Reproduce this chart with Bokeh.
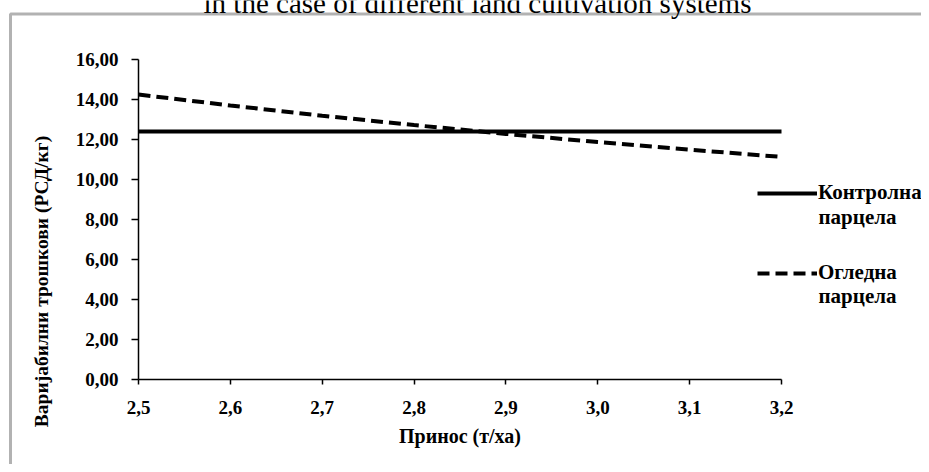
import math
from bokeh.plotting import figure
from bokeh.models import (Legend, LegendItem, Label, BoxAnnotation, FixedTicker,
                          CustomJSTickFormatter, Range1d)
from bokeh.embed import file_html
from bokeh.resources import INLINE

# ---- data ----
yields = [2.5, 2.6, 2.7, 2.8, 2.9, 3.0, 3.1, 3.2]
control_plot = [12.40, 12.40, 12.40, 12.40, 12.40, 12.40, 12.40, 12.40]
demo_plot = [14.25, 13.70, 13.19, 12.72, 12.28, 11.87, 11.49, 11.13]
series_names = ["Контролна", "Огледна"]
series_names_line2 = ["парцела", "парцела"]

x_ticks = [2.5, 2.6, 2.7, 2.8, 2.9, 3.0, 3.1, 3.2]
x_tick_labels = ["2,5", "2,6", "2,7", "2,8", "2,9", "3,0", "3,1", "3,2"]
y_ticks = [0, 2, 4, 6, 8, 10, 12, 14, 16]
y_tick_labels = ["0,00", "2,00", "4,00", "6,00", "8,00", "10,00", "12,00", "14,00", "16,00"]

title_text = "in the case of different land cultivation systems"
x_title = "Принос (т/ха)"
y_title = "Варијабилни трошкови (РСД/кг)"

SERIF = "Liberation Serif"

# ---- layout (pixels of the canvas) ----
W, H = 921, 464
AX_L, AX_R = 138, 781      # pixel columns of x = 2.5 and x = 3.2
AX_B, AX_T = 379, 59       # pixel rows of y = 0 and y = 16
xs = (AX_R - AX_L) / (3.2 - 2.5)
ys = (AX_B - AX_T) / (16 - 0)

def dx(px):
    return 2.5 + (px - AX_L) / xs

def dy(py):
    return (AX_B - py) / ys

p = figure(width=W, height=H, output_backend="svg", toolbar_location=None,
           x_range=Range1d(dx(0), dx(W)), y_range=Range1d(dy(H), dy(0)),
           min_border=0, min_border_left=0, min_border_right=0,
           min_border_top=0, min_border_bottom=0)
p.outline_line_color = None
p.xgrid.visible = False
p.ygrid.visible = False
p.background_fill_color = "white"
p.border_fill_color = "white"

fmt_code = ("const i = tv.findIndex(t => Math.abs(t - tick) < 1e-9);"
            "return i >= 0 ? tl[i] : '';")

xa = p.xaxis[0]
xa.ticker = FixedTicker(ticks=x_ticks)
xa.formatter = CustomJSTickFormatter(args=dict(tv=x_ticks, tl=x_tick_labels), code=fmt_code)
xa.axis_label = x_title
xa.fixed_location = y_ticks[0]
xa.bounds = (x_ticks[0], x_ticks[-1])
ya = p.yaxis[0]
ya.ticker = FixedTicker(ticks=y_ticks)
ya.formatter = CustomJSTickFormatter(args=dict(tv=y_ticks, tl=y_tick_labels), code=fmt_code)
ya.fixed_location = x_ticks[0]
ya.bounds = (y_ticks[0], y_ticks[-1])

for ax in (xa, ya):
    ax.minor_tick_line_color = None
    ax.axis_line_color = "black"
    ax.axis_line_width = 1.5
    ax.major_tick_line_color = "black"
    ax.major_tick_line_width = 1.5
    ax.major_tick_in = 0
    ax.major_label_text_font = SERIF
    ax.major_label_text_font_style = "bold"
    ax.major_label_text_font_size = "19px"
    ax.major_label_text_color = "black"
    ax.axis_label_text_font = SERIF
    ax.axis_label_text_font_style = "bold"
    ax.axis_label_text_font_size = "20px"
    ax.axis_label_text_color = "black"
xa.major_tick_out = 5
xa.major_label_standoff = 16
xa.axis_label_standoff = 8
ya.major_tick_out = 7
ya.major_label_standoff = 13

r1 = p.line(yields, control_plot, line_color="black", line_width=4)
r2 = p.line(yields, demo_plot, line_color="black", line_width=4, line_dash="12 6")

LEG_FONT = "21px"
legend = Legend(items=[LegendItem(label=series_names[0], renderers=[r1]),
                       LegendItem(label=series_names[1], renderers=[r2])],
                location=(757, H - 285), glyph_width=60, glyph_height=24, label_height=24,
                label_standoff=1, spacing=55, padding=0, margin=0,
                border_line_color=None, background_fill_alpha=0,
                label_text_font=SERIF, label_text_font_style="bold",
                label_text_font_size=LEG_FONT, label_text_color="black")
p.add_layout(legend)

for name2, row in zip(series_names_line2, (216, 295)):
    p.add_layout(Label(x=dx(818), y=dy(row), text=name2, text_font=SERIF,
                       text_font_style="bold", text_font_size=LEG_FONT,
                       text_align="left", text_baseline="middle", text_color="black"))

p.add_layout(Label(x=dx(477), y=dy(2), text=title_text, text_font=SERIF,
                   text_font_size="29px", text_align="center",
                   text_baseline="middle", text_color="black"))
p.add_layout(Label(x=dx(41), y=dy(281), text=y_title, text_font=SERIF,
                   text_font_style="bold", text_font_size="19.5px", angle=math.pi / 2,
                   text_align="center", text_baseline="middle", text_color="black"))
p.add_layout(BoxAnnotation(left=dx(10), right=dx(W + 200), top=dy(13.5), bottom=dy(H + 200),
                           fill_alpha=0, line_color="black", line_width=3,
                           level="overlay"))

open("out.html", "w").write(file_html(p, INLINE))
